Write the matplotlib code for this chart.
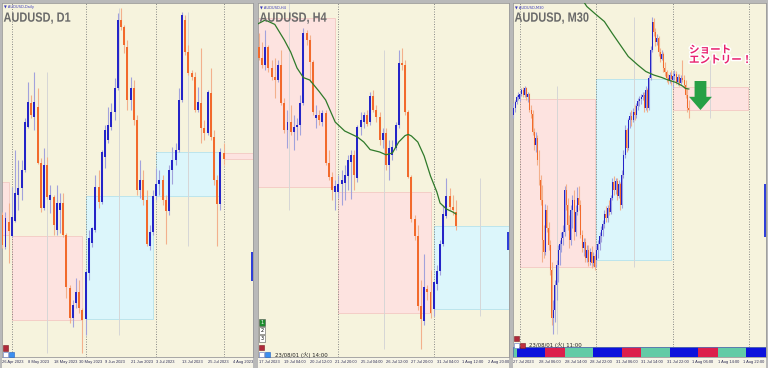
import matplotlib
matplotlib.use('Agg')
import matplotlib.pyplot as plt
from matplotlib.patches import Rectangle, PathPatch
from matplotlib.textpath import TextPath
from matplotlib.font_manager import FontProperties
from matplotlib.transforms import Affine2D
import matplotlib.patheffects as pe

# ---------------- AUDUSD D1 (26 Apr - 1 Aug 2023) ----------------
d1_open = [.6685, .6653, .6678, .6664, .6679, .6705, .6712, .6730, .6773, .6797,
           .6783, .6793, .6737, .6692, .6735, .6700, .6703, .6670, .6690, .6697,
           .6665, .6612, .6582, .6597, .6608, .6590, .6581, .6627, .6657, .6670,
           .6713, .6698, .6743, .6760, .6773, .6788, .6812, .6880, .6873, .6853,
           .6800, .6812, .6780, .6710, .6720, .6700, .6654, .6668, .6704, .6716,
           .6720, .6700, .6689, .6730, .6740, .6750, .6800, .6880, .6848, .6827,
           .6823, .6790, .6797, .6772, .6767, .6807, .6763, .6720, .6696, .6747]
d1_high = [.6688, .6688, .6697, .6713, .6750, .6740, .6740, .6782, .6818, .6805,
           .6828, .6812, .6742, .6752, .6743, .6715, .6705, .6715, .6707, .6707,
           .6667, .6615, .6600, .6622, .6620, .6592, .6630, .6670, .6673, .6725,
           .6730, .6750, .6775, .6793, .6797, .6822, .6887, .6892, .6875, .6860,
           .6823, .6820, .6785, .6740, .6730, .6710, .6675, .6710, .6732, .6730,
           .6725, .6705, .6735, .6753, .6757, .6812, .6888, .6885, .6855, .6830,
           .6828, .6813, .6852, .6780, .6810, .6832, .6770, .6725, .6752, .6757]
d1_low = [.6652, .6651, .6637, .6663, .6678, .6690, .6700, .6728, .6772, .6782,
          .6770, .6736, .6688, .6690, .6701, .6687, .6665, .6665, .6667, .6663,
          .6602, .6577, .6573, .6592, .6587, .6547, .6565, .6620, .6653, .6668,
          .6692, .6696, .6732, .6757, .6770, .6780, .6810, .6870, .6847, .6790,
          .6790, .6775, .6705, .6702, .6695, .6654, .6650, .6665, .6700, .6705,
          .6695, .6656, .6685, .6716, .6735, .6748, .6798, .6845, .6825, .6820,
          .6788, .6788, .6757, .6760, .6765, .6760, .6715, .6654, .6690, .6735]
d1_close = [.6655, .6682, .6669, .6683, .6707, .6712, .6730, .6778, .6798, .6785,
            .6798, .6737, .6692, .6735, .6703, .6705, .6675, .6697, .6697, .6665,
            .6613, .6582, .6595, .6608, .6592, .6580, .6628, .6662, .6672, .6713,
            .6698, .6748, .6770, .6775, .6788, .6812, .6880, .6873, .6855, .6800,
            .6812, .6780, .6710, .6720, .6700, .6656, .6668, .6704, .6716, .6720,
            .6700, .6689, .6730, .6740, .6750, .6800, .6885, .6848, .6827, .6823,
            .6790, .6798, .6772, .6767, .6808, .6763, .6720, .6696, .6748, .6741]
d1_ticks = ['26 Apr 2023', '8 May 2023', '18 May 2023', '30 May 2023', '9 Jun 2023',
            '21 Jun 2023', '3 Jul 2023', '13 Jul 2023', '25 Jul 2023', '4 Aug 2023']
d1_month_first = [3, 26, 48, 69]
# monthly candles drawn as boxes: Apr, May, Jun, Jul, Aug
mn_start = [-17, 3, 26, 48, 69]
mn_end = [2, 25, 47, 68, 91]
mn_open = [.6718, .6664, .6581, .6704, .6747]
mn_close = [.6665, .6580, .6704, .6748, .6741]
mn_high = [.6800, .6828, .6892, .6888, .6757]
mn_low = [.6600, .6547, .6565, .6654, .6735]

# ---------------- AUDUSD H4 (17 Jul 20:00 - 1 Aug 04:00) ----------------
h4_open = [.68265, .68210, .68175, .68265, .68160, .68115, .68100, .68175, .67985, .67850,
           .67890, .67840, .67865, .67875, .67985, .68335, .68300, .68190, .67910, .67925,
           .67890, .67935, .67685, .67615, .67540, .67540, .67580, .67585, .67620, .67690,
           .67725, .67610, .67865, .67890, .67925, .67890, .68020, .67950, .67915, .67800,
           .67835, .67675, .67725, .67760, .67875, .68185, .68175, .67940, .67615, .67405,
           .67320, .66970, .66895, .67055, .67040, .66955, .67080, .67145, .67280, .67420,
           .67520, .67465, .67440]
h4_high = [.68335, .68290, .68350, .68275, .68200, .68210, .68200, .68250, .68010, .67950,
           .67975, .67925, .67910, .68025, .68360, .68350, .68325, .68200, .67975, .67950,
           .67950, .67950, .67750, .67640, .67600, .67625, .67650, .67675, .67725, .67750,
           .67750, .67875, .67940, .67940, .67950, .68040, .68050, .67975, .67940, .67860,
           .67860, .67800, .67800, .67890, .68250, .68260, .68200, .67950, .67625, .67425,
           .67375, .67100, .67230, .67075, .67150, .67075, .67175, .67300, .67475, .67610,
           .67560, .67525, .67500]
h4_low = [.68200, .68160, .68150, .68140, .68100, .68010, .68090, .67975, .67835, .67760,
          .67825, .67750, .67800, .67825, .67975, .68275, .68090, .67925, .67860, .67875,
          .67870, .67675, .67600, .67500, .67450, .67510, .67475, .67500, .67550, .67505,
          .67550, .67590, .67825, .67860, .67870, .67875, .67940, .67890, .67775, .67760,
          .67650, .67600, .67700, .67750, .67860, .68150, .67925, .67610, .67390, .67300,
          .66950, .66755, .66875, .67000, .66910, .66920, .67050, .67125, .67270, .67410,
          .67450, .67425, .67350]
h4_close = [.68210, .68175, .68265, .68160, .68115, .68100, .68175, .67985, .67850, .67890,
            .67840, .67865, .67875, .67985, .68335, .68300, .68190, .67940, .67925, .67900,
            .67935, .67685, .67615, .67550, .67570, .67580, .67600, .67625, .67700, .67725,
            .67625, .67865, .67900, .67925, .67880, .68020, .67950, .67915, .67800, .67835,
            .67675, .67760, .67765, .67875, .68185, .68175, .67940, .67615, .67405, .67320,
            .66970, .66905, .67065, .67040, .66935, .67090, .67145, .67280, .67430, .67520,
            .67465, .67450, .67370]
h4_ticks = ['17 Jul 2023', '19 Jul 04:00', '20 Jul 12:00', '21 Jul 20:00', '25 Jul 04:00',
            '26 Jul 12:00', '27 Jul 20:00', '31 Jul 04:00', '1 Aug 12:00', '2 Aug 20:00']
h4_week_first = [25, 55]
wk_start = [-5, 25, 55]
wk_end = [24, 54, 84]
wk_open = [.68410, .67540, .66955]
wk_close = [.67565, .66935, .67370]
wk_high = [.68500, .68250, .67610]
wk_low = [.67450, .66755, .66920]
h4_ma_idx = [-1, 2, 5, 8, 10, 12, 14, 16, 19, 21, 24, 27, 31, 33, 35, 38, 40, 42, 44,
             46, 47, 48, 50, 52, 54, 56, 57, 59, 61, 62]
h4_ma = [.68375, .68400, .68378, .68300, .68240, .68160, .68112, .68100, .68042, .68000,
         .67890, .67845, .67815, .67790, .67752, .67740, .67726, .67735, .67790, .67822,
         .67828, .67820, .67790, .67720, .67620, .67540, .67485, .67455, .67440, .67430]

# ---------------- AUDUSD M30 (27 Jul 22:00 - 1 Aug 05:00) ----------------
m30_open = [.67390, .67404, .67416, .67426, .67422, .67432, .67440, .67430, .67444, .67426,
            .67432, .67400, .67392, .67356, .67330, .67344, .67300, .67260, .67220, .67140,
            .67116, .67200, .67164, .67130, .67080, .66984, .67000, .67050, .67090, .67120,
            .67132, .67144, .67156, .67240, .67210, .67170, .67140, .67200, .67220, .67156,
            .67196, .67224, .67210, .67150, .67124, .67136, .67104, .67120, .67096, .67116,
            .67094, .67108, .67100, .67120, .67132, .67148, .67160, .67172, .67192, .67184,
            .67204, .67196, .67224, .67256, .67240, .67258, .67228, .67252, .67210, .67270,
            .67310, .67360, .67324, .67380, .67388, .67380, .67396, .67390, .67408, .67418,
            .67422, .67426, .67430, .67404, .67440, .67404, .67464, .67520, .67576, .67556,
            .67536, .67544, .67516, .67502, .67512, .67484, .67476, .67464, .67460, .67470,
            .67460, .67468, .67472, .67456, .67466, .67454, .67464, .67460, .67450, .67430,
            .67404]
m30_high = [.67414, .67420, .67430, .67436, .67434, .67444, .67446, .67448, .67446, .67436,
            .67434, .67410, .67400, .67364, .67356, .67350, .67320, .67270, .67250, .67170,
            .67212, .67210, .67176, .67140, .67096, .67020, .67060, .67100, .67130, .67140,
            .67156, .67170, .67248, .67252, .67224, .67190, .67210, .67230, .67240, .67210,
            .67246, .67248, .67220, .67160, .67144, .67144, .67130, .67130, .67124, .67128,
            .67116, .67112, .67130, .67140, .67156, .67168, .67180, .67200, .67208, .67210,
            .67220, .67230, .67264, .67268, .67264, .67264, .67260, .67256, .67280, .67320,
            .67370, .67364, .67384, .67396, .67400, .67404, .67410, .67414, .67424, .67428,
            .67432, .67436, .67436, .67448, .67444, .67470, .67528, .67586, .67584, .67564,
            .67552, .67548, .67524, .67520, .67516, .67496, .67480, .67472, .67476, .67480,
            .67476, .67480, .67478, .67472, .67472, .67470, .67500, .67470, .67460, .67444,
            .67420]
m30_low = [.67384, .67396, .67412, .67420, .67418, .67428, .67426, .67426, .67420, .67416,
           .67396, .67384, .67350, .67320, .67316, .67290, .67250, .67210, .67096, .67104,
           .67110, .67156, .67120, .67070, .66970, .66952, .66976, .67020, .67056, .67090,
           .67116, .67130, .67148, .67200, .67160, .67124, .67130, .67164, .67140, .67148,
           .67190, .67200, .67144, .67116, .67108, .67096, .67096, .67088, .67090, .67084,
           .67088, .67080, .67086, .67104, .67120, .67136, .67148, .67164, .67176, .67176,
           .67190, .67192, .67220, .67230, .67232, .67220, .67224, .67200, .67204, .67264,
           .67304, .67316, .67320, .67364, .67368, .67376, .67380, .67384, .67400, .67408,
           .67412, .67420, .67396, .67400, .67396, .67400, .67460, .67516, .67548, .67528,
           .67530, .67508, .67496, .67500, .67476, .67468, .67456, .67452, .67454, .67450,
           .67444, .67460, .67452, .67450, .67448, .67450, .67456, .67444, .67424, .67396,
           .67384]
m30_close = [.67404, .67416, .67426, .67430, .67432, .67440, .67430, .67444, .67426, .67432,
             .67400, .67392, .67356, .67330, .67344, .67300, .67260, .67220, .67140, .67116,
             .67200, .67164, .67130, .67080, .66984, .67000, .67050, .67090, .67120, .67132,
             .67144, .67156, .67240, .67210, .67170, .67140, .67200, .67220, .67156, .67196,
             .67224, .67210, .67150, .67124, .67136, .67104, .67120, .67096, .67116, .67094,
             .67108, .67086, .67120, .67132, .67148, .67160, .67172, .67192, .67184, .67204,
             .67196, .67224, .67256, .67240, .67258, .67228, .67252, .67210, .67270, .67310,
             .67360, .67324, .67380, .67388, .67380, .67396, .67390, .67408, .67418, .67422,
             .67426, .67430, .67404, .67440, .67404, .67464, .67520, .67576, .67556, .67536,
             .67544, .67516, .67502, .67512, .67484, .67476, .67464, .67460, .67470, .67462,
             .67468, .67472, .67456, .67466, .67454, .67464, .67460, .67450, .67430, .67404,
             .67400]
m30_ticks = ['27 Jul 2023', '28 Jul 06:00', '28 Jul 14:00', '28 Jul 22:00', '31 Jul 06:00',
             '31 Jul 14:00', '31 Jul 22:00', '1 Aug 06:00', '1 Aug 14:00', '1 Aug 22:00']
m30_day_first = [4, 52, 100, 148]
dy_start = [4, 52, 100]
dy_end = [51, 99, 147]
dy_open = [.67422, .67100, .67446]
dy_close = [.67086, .67462, .67400]
dy_high = [.67448, .67586, .67500]
dy_low = [.66952, .67086, .67384]
m30_ma_idx = [40, 46, 51, 57, 62, 67, 72, 78, 83, 88, 93, 97, 102, 106, 108, 110]
m30_ma = [.67636, .67607, .67593, .67577, .67553, .67530, .67507, .67490, .67477, .67470,
          .67465, .67460, .67455, .67448, .67443, .67442]
sess_start = [-1, 2, 20, 32, 50, 68, 80, 98, 116, 128, 146]
sess_end = [2, 20, 32, 50, 68, 80, 98, 116, 128, 146, 164]
sess_name = ['NY', 'Tokyo', 'London', 'NY', 'Tokyo', 'London', 'NY', 'Tokyo', 'London', 'NY', 'Tokyo']

# ---------------- style ----------------
W, H = 768, 368
BG = '#f6f3dd'
BULL, BULL_W = '#2424c8', '#a2a2dc'
BEAR, BEAR_W = '#f26a2c', '#f3b08c'
PINK, PINK_E = '#fde3e0', '#f4c9c3'
CYAN, CYAN_E = '#dcf6fb', '#b5e3ec'
SESS_COL = {'Tokyo': '#0c12dc', 'London': '#dc1f4c', 'NY': '#63cba6'}
SANS = ['Liberation Sans', 'DejaVu Sans']

fig = plt.figure(figsize=(W / 100, H / 100), dpi=100, facecolor='#b9b9b9')


def px_rect(x, y, w, h, z=5, **kw):
    fig.add_artist(Rectangle((x / W, 1 - (y + h) / H), w / W, h / H,
                             transform=fig.transFigure, zorder=z, **kw))


def narrow_text(s, x, baseline, size, squeeze, color):
    # condensed bold title (terminal font is narrower than Liberation Sans)
    path = TextPath((0, 0), s, size=size, prop=FontProperties(family='Liberation Sans', weight='bold'))
    tr = Affine2D().scale(squeeze, 1).translate(x, H - baseline)
    fig.add_artist(PathPatch(path, transform=tr, facecolor=color, edgecolor='none', zorder=8))


def panel(x0, x1, xlim, ylim):
    px_rect(x0, 357, x1 - x0, 11, z=-5, facecolor='#f7f5e8', edgecolor='none')
    ax = fig.add_axes([x0 / W, 1 - 357 / H, (x1 - x0) / W, 354 / H])
    ax.set_facecolor(BG)
    ax.set_xlim(*xlim)
    ax.set_ylim(*ylim)
    ax.set_xticks([])
    ax.set_yticks([])
    for s in ax.spines.values():
        s.set_color('#9a9a9a')
        s.set_linewidth(0.6)
    return ax


def candles(ax, o, h, l, c, width):
    x = list(range(len(o)))
    up = [cc >= oo for oo, cc in zip(o, c)]
    ax.vlines(x, l, h, colors=[BULL_W if u else BEAR_W for u in up], lw=0.8, zorder=3)
    bottoms = [min(oo, cc) for oo, cc in zip(o, c)]
    span = ax.get_ylim()[1] - ax.get_ylim()[0]
    heights = [max(abs(cc - oo), span / 400) for oo, cc in zip(o, c)]
    ax.bar(x, heights, bottom=bottoms, width=width, color=[BULL if u else BEAR for u in up],
           linewidth=0, zorder=4)


def boxes(ax, st, en, op, cl, hi, lo):
    for s, e, o, c, h, l in zip(st, en, op, cl, hi, lo):
        fc, ec = (CYAN, CYAN_E) if c >= o else (PINK, PINK_E)
        ax.add_patch(Rectangle((s, min(o, c)), e - s, abs(c - o), facecolor=fc,
                               edgecolor=ec, lw=0.6, zorder=1))
        ax.vlines((s + e) / 2, l, h, colors='#d6d6d6', lw=0.7, zorder=1.5)


def separators(ax, xs):
    for x in xs:
        ax.axvline(x, color='#7c7c7c', lw=0.6, ls=(0, (1.2, 1.8)), zorder=2)


def time_labels(ax, labels, step):
    for k, t in enumerate(labels):
        ax.text(k * step, -0.014, t, transform=ax.get_xaxis_transform(), fontsize=2.9,
                family=SANS, color='#2e2e55', ha='left', va='center', clip_on=False)


def titles(ax, x0, small, big):
    ax.text(0.006, 0.994, '\u25bc ' + small, transform=ax.transAxes, fontsize=2.6,
            color='#3a3ab8', ha='left', va='top', zorder=10)
    narrow_text(big, x0 + 1.5, 21.7, 13.4, 0.82, '#6a6a6a')


def edge_marker(ax, y0, y1):
    ax.add_patch(Rectangle((0.993, y0), 0.007, y1 - y0, transform=ax.transAxes,
                           facecolor='#2f3fd8', edgecolor='none', zorder=10, clip_on=False))


# ---------------- panel 1 : D1 ----------------
ax1 = panel(2, 253, (-0.09, 78.15), (.6543, .6897))
boxes(ax1, mn_start, mn_end, mn_open, mn_close, mn_high, mn_low)
separators(ax1, d1_month_first)
candles(ax1, d1_open, d1_high, d1_low, d1_close, 0.62)
time_labels(ax1, d1_ticks, 8)
titles(ax1, 2, 'AUDUSD,Daily', 'AUDUSD, D1')
edge_marker(ax1, 0.215, 0.297)

# ---------------- panel 2 : H4 ----------------
ax2 = panel(258, 509, (-0.28, 78.7), (.66715, .68485))
boxes(ax2, wk_start, wk_end, wk_open, wk_close, wk_high, wk_low)
separators(ax2, h4_week_first)
candles(ax2, h4_open, h4_high, h4_low, h4_close, 0.62)
ax2.plot(h4_ma_idx, h4_ma, color='#2f7a2a', lw=0.9, zorder=5)
time_labels(ax2, h4_ticks, 8)
titles(ax2, 258, 'AUDUSD,H4', 'AUDUSD, H4')
edge_marker(ax2, 0.302, 0.353)

# ---------------- panel 3 : M30 ----------------
ax3 = panel(513, 766, (-0.31, 158.4), (.66906, .67614))
boxes(ax3, dy_start, dy_end, dy_open, dy_close, dy_high, dy_low)
separators(ax3, m30_day_first)
candles(ax3, m30_open, m30_high, m30_low, m30_close, 0.62)
ax3.plot(m30_ma_idx, m30_ma, color='#2f7a2a', lw=0.9, zorder=5)
for s, e, n in zip(sess_start, sess_end, sess_name):
    ax3.add_patch(Rectangle((s, 0.0), e - s, 0.028, transform=ax3.get_xaxis_transform(),
                            facecolor=SESS_COL[n], edgecolor='none', zorder=6))
ax3.add_patch(Rectangle((0, 0.0), 1, 0.028, transform=ax3.transAxes, facecolor='none',
                        edgecolor='#5a6fb0', lw=0.6, zorder=7))
time_labels(ax3, m30_ticks, 16)
titles(ax3, 513, 'AUDUSD,M30', 'AUDUSD, M30')
edge_marker(ax3, 0.339, 0.489)

# entry annotation
last = len(m30_close) - 1
ax3.text(last + 0.1, .67530, 'ショート\nエントリー！', fontsize=7.6, fontweight='bold',
         family=['Noto Sans CJK JP'], color='#e8236f', ha='left', va='top', linespacing=1.0,
         zorder=12, path_effects=[pe.withStroke(linewidth=2.2, foreground='white')])
ax3.annotate('', xy=(last + 7.3, .67400), xytext=(last + 7.3, .67458),
             arrowprops=dict(arrowstyle='simple,head_width=1.65,head_length=0.95,tail_width=0.85',
                             mutation_scale=10, color='#27a046', lw=0, shrinkA=0, shrinkB=0),
             zorder=12)

# ---------------- small terminal widgets ----------------
CJK = ['DejaVu Sans', 'Noto Sans CJK JP']
px_rect(3, 345, 5, 6, facecolor='#b02a3a', edgecolor='#7a1a22', lw=0.4)
px_rect(3, 352, 5, 5, facecolor='white', edgecolor='#5570c0', lw=0.4)
px_rect(9, 352, 5, 5, facecolor='#3b8ff0', edgecolor='#2060c0', lw=0.4)

for k, (lab, fc, tc) in enumerate([('1', '#1f8c2e', 'white'), ('2', 'white', 'black'), ('3', 'white', 'black')]):
    px_rect(259, 319 + 8 * k, 6, 7, facecolor=fc, edgecolor='#555555', lw=0.4)
    fig.text(262 / W, 1 - (322.5 + 8 * k) / H, lab, fontsize=3.6, color=tc, ha='center',
             va='center', zorder=6)
px_rect(259, 345, 5, 5, facecolor='#b02a3a', edgecolor='#7a1a22', lw=0.4)
px_rect(259, 352, 5, 5, facecolor='white', edgecolor='#5570c0', lw=0.4)
px_rect(265, 352, 5, 5, facecolor='#3b8ff0', edgecolor='#2060c0', lw=0.4)
fig.text(275 / W, 1 - 355 / H, '23/08/01 (火) 14:00', fontsize=3.9, family=CJK,
         color='#222222', ha='left', va='center', zorder=6)

px_rect(514, 336, 5, 5, facecolor='#b02a3a', edgecolor='#7a1a22', lw=0.4)
px_rect(514, 343, 5, 5, facecolor='white', edgecolor='#5570c0', lw=0.4)
px_rect(520, 343, 5, 5, facecolor='#c03040', edgecolor='#7a1a22', lw=0.4)
fig.text(529 / W, 1 - 345.5 / H, '23/08/01 (火) 11:00', fontsize=3.9, family=CJK,
         color='#222222', ha='left', va='center', zorder=6)

fig.savefig('out.png', dpi=100, facecolor=fig.get_facecolor())
